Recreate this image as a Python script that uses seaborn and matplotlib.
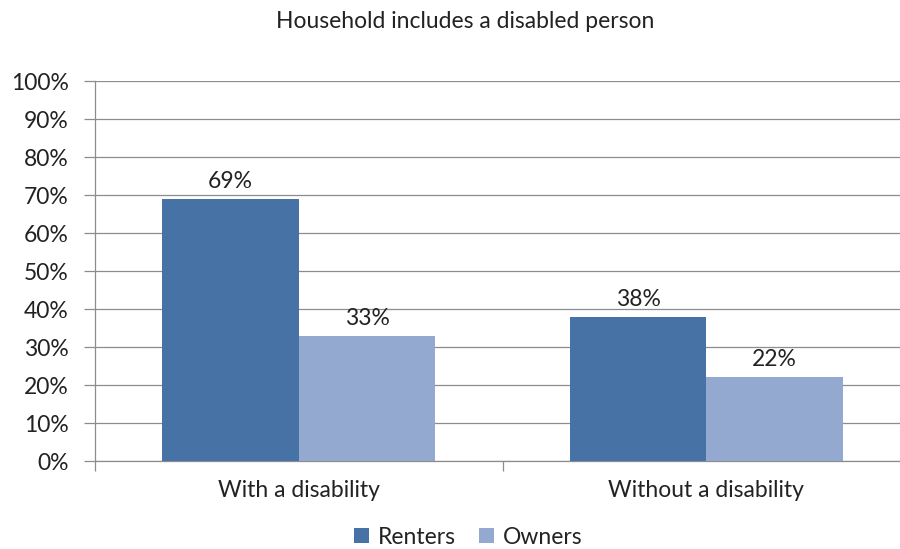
import matplotlib
matplotlib.use("Agg")
import matplotlib.pyplot as plt
import seaborn as sns
import pandas as pd
from matplotlib.ticker import MultipleLocator, FixedLocator
from matplotlib.patches import Patch

categories = ["With a disability", "Without a disability"]
series = ["Renters", "Owners"]
renters = [69, 38]
owners = [33, 22]
title = "Household includes a disabled person"
colors = {"Renters": "#4672A6", "Owners": "#93A9CF"}

rows = []
for c, r, o in zip(categories, renters, owners):
    rows.append({"category": c, "tenure": "Renters", "value": r})
    rows.append({"category": c, "tenure": "Owners", "value": o})
df = pd.DataFrame(rows)

sns.set_theme(style="white")
plt.rcParams["font.family"] = ["Lato", "DejaVu Sans"]
FS = 16.5

fig = plt.figure(figsize=(9, 5.49), dpi=100)
ax = fig.add_axes([95/900, 88/549, 815/900, 380/549])

sns.barplot(data=df, x="category", y="value", hue="tenure", order=categories,
            hue_order=series, palette=colors, width=0.67, gap=0, dodge=True,
            saturation=1, ax=ax, legend=False, linewidth=0, zorder=3)

for cont in ax.containers:
    ax.bar_label(cont, labels=[f"{v:.0f}%" for v in cont.datavalues],
                 padding=5, fontsize=FS, color="#222222")

ax.set_xlim(-0.5, 1.5)
ax.set_ylim(0, 100)
ax.yaxis.set_major_locator(MultipleLocator(10))
ax.set_yticklabels([f"{int(v)}%" for v in ax.get_yticks()])
ax.grid(axis="y", color="#8C8C8C", linewidth=0.9, zorder=0)
ax.set_axisbelow(True)
ax.set_xlabel("")
ax.set_ylabel("")
for s in ["top", "right"]:
    ax.spines[s].set_visible(False)
for s in ["left", "bottom"]:
    ax.spines[s].set_color("#8C8C8C")
    ax.spines[s].set_linewidth(0.9)

ax.tick_params(axis="y", which="major", length=8, color="#8C8C8C", width=0.9,
               labelsize=FS, labelcolor="#222222", pad=11, left=True)
ax.tick_params(axis="x", which="major", length=0, labelsize=FS,
               labelcolor="#222222", pad=14)
ax.xaxis.set_minor_locator(FixedLocator([-0.5, 0.5, 1.5]))
ax.tick_params(axis="x", which="minor", length=7, color="#8C8C8C", width=0.9,
               bottom=True)

fig.text(465/900, 1 - 22/549, title, ha="center", va="center",
         fontsize=FS, color="#222222")

handles = [Patch(facecolor=colors[s], edgecolor="none", label=s) for s in series]
fig.legend(handles=handles, loc="center", bbox_to_anchor=(468/900, 12/549),
           ncol=2, frameon=False, fontsize=FS, handlelength=0.65,
           handleheight=0.65, handletextpad=0.4, columnspacing=1.0,
           labelcolor="#222222")

fig.savefig("out.png", dpi=100, facecolor="white")
